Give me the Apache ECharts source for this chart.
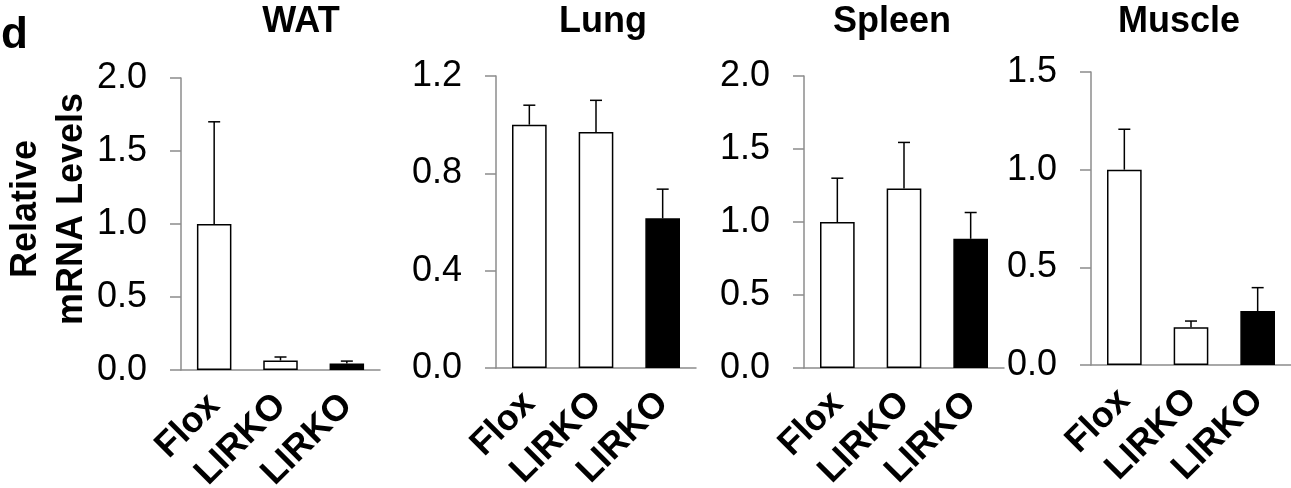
<!DOCTYPE html>
<html>
<head>
<meta charset="utf-8">
<script src="https://cdn.jsdelivr.net/npm/echarts@6/dist/echarts.min.js"></script>
<style>
  html, body { margin: 0; padding: 0; background: #fff; }
  #chart { width: 1291px; height: 488px; }
</style>
</head>
<body>
<div id="chart"></div>
<script>
// groups on the x axis
var categories = ['Flox', 'LIRKO', 'LIRKO'];

// panel names
var panelNames = ['WAT', 'Lung', 'Spleen', 'Muscle'];

// mean values (relative mRNA) per panel
var watMean = [1.0, 0.065, 0.045];
var lungMean = [1.0, 0.97, 0.615];
var spleenMean = [1.0, 1.23, 0.885];
var muscleMean = [1.0, 0.193, 0.276];

// upper error (SEM) per panel
var watErr = [0.70, 0.024, 0.016];
var lungErr = [0.08, 0.13, 0.12];
var spleenErr = [0.30, 0.315, 0.18];
var muscleErr = [0.207, 0.032, 0.12];

// y axis ranges / tick steps
var yMax = [2.0, 1.2, 2.0, 1.5];
var yStep = [0.5, 0.4, 0.5, 0.5];

var means = [watMean, lungMean, spleenMean, muscleMean];
var errs = [watErr, lungErr, spleenErr, muscleErr];

var FONT = '"Liberation Sans", Arial, Helvetica, sans-serif';
var barFill = ['#ffffff', '#ffffff', '#000000'];

var grids = [
  { left: 181, top: 78, width: 199, height: 292 },
  { left: 496, top: 76, width: 200, height: 292 },
  { left: 804, top: 76, width: 200, height: 292 },
  { left: 1091, top: 72, width: 200, height: 293 }
];
var titleX = [301, 603, 892, 1179];

var chart = echarts.init(document.getElementById('chart'), null, { renderer: 'canvas' });

var option = {
  animation: false,
  backgroundColor: '#fff',
  title: panelNames.map(function (name, i) {
    return {
      text: name,
      left: titleX[i],
      top: 4,
      textAlign: 'center',
      padding: 0,
      textStyle: { fontFamily: FONT, fontSize: 36, fontWeight: 'bold', color: '#000' }
    };
  }),
  graphic: [
    {
      type: 'text',
      left: 1,
      top: 14,
      style: { text: 'd', font: 'bold 44px ' + FONT, fill: '#000' }
    },
    {
      type: 'text',
      x: 49,
      y: 209,
      rotation: Math.PI / 2,
      style: {
        text: 'Relative\nmRNA Levels',
        font: 'bold 36px ' + FONT,
        fill: '#000',
        align: 'center',
        verticalAlign: 'middle',
        lineHeight: 46
      }
    }
  ],
  grid: grids.map(function (g) {
    return {
      left: g.left, top: g.top, width: g.width, height: g.height,
      containLabel: false,
      outerBoundsMode: 'none'
    };
  }),
  xAxis: grids.map(function (g, i) {
    return {
      type: 'category',
      gridIndex: i,
      data: categories,
      axisLine: { lineStyle: { color: '#8c8c8c', width: 1.5 } },
      axisTick: { show: false },
      axisLabel: {
        rotate: 45,
        margin: 30,
        interval: 0,
        fontFamily: FONT,
        fontSize: 36,
        fontWeight: 'bold',
        color: '#000'
      }
    };
  }),
  yAxis: grids.map(function (g, i) {
    return {
      type: 'value',
      gridIndex: i,
      min: 0,
      max: yMax[i],
      interval: yStep[i],
      splitLine: { show: false },
      axisLine: { show: true, lineStyle: { color: '#8c8c8c', width: 1.5 } },
      axisTick: { show: true, inside: false, length: 11, lineStyle: { color: '#8c8c8c', width: 1.5 } },
      axisLabel: {
        margin: 34,
        fontFamily: FONT,
        fontSize: 36,
        color: '#000',
        formatter: function (v) { return v.toFixed(1); }
      }
    };
  }),
  series: []
};

means.forEach(function (m, i) {
  option.series.push({
    type: 'bar',
    xAxisIndex: i,
    yAxisIndex: i,
    barWidth: '52%',
    data: m.map(function (v, j) {
      return {
        value: v,
        itemStyle: { color: barFill[j], borderColor: '#000', borderWidth: 1.5 }
      };
    }),
    z: 2
  });
  // upper error bars
  option.series.push({
    type: 'custom',
    xAxisIndex: i,
    yAxisIndex: i,
    z: 3,
    data: m.map(function (v, j) { return [j, v, v + errs[i][j]]; }),
    renderItem: function (params, api) {
      var base = api.coord([api.value(0), api.value(1)]);
      var top = api.coord([api.value(0), api.value(2)]);
      var cap = 6;
      var st = { stroke: '#000', lineWidth: 1.5 };
      return {
        type: 'group',
        children: [
          { type: 'line', shape: { x1: base[0], y1: base[1], x2: top[0], y2: top[1] }, style: st },
          { type: 'line', shape: { x1: top[0] - cap, y1: top[1], x2: top[0] + cap, y2: top[1] }, style: st }
        ]
      };
    }
  });
});

chart.setOption(option);
</script>
</body>
</html>
